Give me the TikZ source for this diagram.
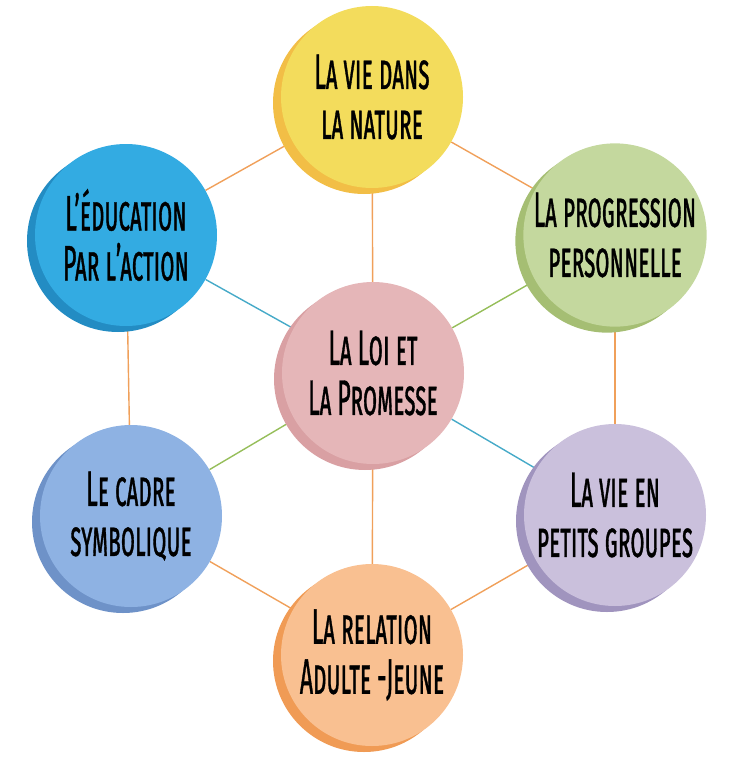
\documentclass[tikz,border=0pt]{standalone}
\usepackage{fontspec}
\setmainfont{Fira Sans}[FakeStretch=0.46, FakeBold=0.7]
\usepackage{tikz}
\usetikzlibrary{backgrounds}

\definecolor{yelLight}{HTML}{F3DC5C}
\definecolor{yelDark}{HTML}{F2BE46}
\definecolor{bluLight}{HTML}{33ABE2}
\definecolor{bluDark}{HTML}{238CC3}
\definecolor{grnLight}{HTML}{C4D89E}
\definecolor{grnDark}{HTML}{A5BE73}
\definecolor{pnkLight}{HTML}{E5B6B8}
\definecolor{pnkDark}{HTML}{D9A0A3}
\definecolor{skyLight}{HTML}{8EB2E3}
\definecolor{skyDark}{HTML}{6E92C8}
\definecolor{lilLight}{HTML}{CAC0DC}
\definecolor{lilDark}{HTML}{A094BE}
\definecolor{orgLight}{HTML}{F9C091}
\definecolor{orgDark}{HTML}{F09B55}
\definecolor{linkOrange}{HTML}{F0A05A}
\definecolor{linkBlue}{HTML}{46AAC8}
\definecolor{linkGreen}{HTML}{96BE5A}

\begin{document}
\begin{tikzpicture}[
  x=1pt, y=-1pt,
  bubble/.style 2 args={circle, minimum size=182pt, inner sep=0pt, fill=#1,
              preaction={fill=#2, transform canvas={shift={(-8pt,-6pt)}}},
              align=center, font=\fontsize{50}{50}\selectfont\scshape},
  link/.style={line width=1.4pt}
]
\useasboundingbox (0,0) rectangle (736,757);
% the seven circles
\node[bubble={yelLight}{yelDark}] (nature) at (372,97) {La vie dans\\la nature};
\node[bubble={bluLight}{bluDark}] (action) at (126,235) {L’éducation\\Par l’action};
\node[bubble={grnLight}{grnDark}] (progres) at (615,235) {La progression\\personnelle};
\node[bubble={pnkLight}{pnkDark}] (loi) at (373,373) {La Loi et\\La Promesse};
\node[bubble={skyLight}{skyDark}] (cadre) at (131,516) {Le cadre\\symbolique};
\node[bubble={lilLight}{lilDark}] (groupes) at (615,515) {La vie en\\petits groupes};
\node[bubble={orgLight}{orgDark}] (relation) at (372,655) {La relation\\Adulte -Jeune};
% links, drawn behind the circles
\begin{scope}[on background layer]
\draw[link, linkOrange] (nature) -- (action);
\draw[link, linkOrange] (nature) -- (progres);
\draw[link, linkOrange] (nature) -- (loi);
\draw[link, linkOrange] (action) -- (cadre);
\draw[link, linkOrange] (progres) -- (groupes);
\draw[link, linkOrange] (loi) -- (relation);
\draw[link, linkOrange] (relation) -- (cadre);
\draw[link, linkOrange] (relation) -- (groupes);
\draw[link, linkBlue] (action) -- (loi);
\draw[link, linkBlue] (loi) -- (groupes);
\draw[link, linkGreen] (progres) -- (loi);
\draw[link, linkGreen] (loi) -- (cadre);
\end{scope}
\end{tikzpicture}
\end{document}
